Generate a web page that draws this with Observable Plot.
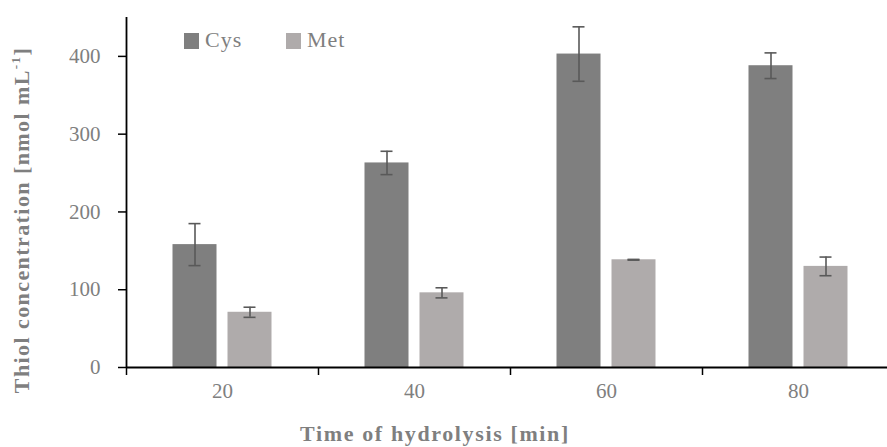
<!DOCTYPE html>
<html>
<head>
<meta charset="utf-8">
<script src="https://cdn.jsdelivr.net/npm/d3@7"></script>
<script src="https://cdn.jsdelivr.net/npm/@observablehq/plot@0.6"></script>
<style>
  html, body { margin: 0; padding: 0; background: #fff; }
  #wrap { position: relative; width: 887px; height: 447px; overflow: hidden; font-family: "Liberation Serif", serif; }
  #wrap svg { display: block; }
  #wrap svg text { fill: #7f7f7f; font-family: "Liberation Serif", serif !important; }
  .title { position: absolute; white-space: nowrap; font-family: "Liberation Serif", serif; font-weight: bold; font-size: 22px; color: #7f7f7f; line-height: 1; }
  .ytitle sup { font-size: 13px; vertical-align: 9px; line-height: 0; }
  .legend-item { position: absolute; top: 28px; display: flex; align-items: center; font-family: "Liberation Serif", serif; font-size: 22px; color: #7f7f7f; line-height: 24px; letter-spacing: 1px; }
  .legend-item i { display: inline-block; width: 15px; height: 16px; margin-right: 6px; margin-top: 1px; }
</style>
</head>
<body>
<div id="wrap"></div>
<script>
const times = [20, 40, 60, 80];
const seriesNames = ["Cys", "Met"];
const cysValues = [158, 263, 403, 388];
const cysErrors = [27, 15, 35, 16.5];
const metValues = [71, 96, 138.5, 130];
const metErrors = [6.5, 6.5, 0.5, 12];
const seriesColors = ["#7f7f7f", "#afabab"];
const yTicks = [0, 100, 200, 300, 400];

const cysRows = times.map((t, i) => ({time: t, series: "Cys", value: cysValues[i], err: cysErrors[i]}));
const metRows = times.map((t, i) => ({time: t, series: "Met", value: metValues[i], err: metErrors[i]}));

const errStroke = "#595959";
function seriesMarks(rows, color, dx) {
  return [
    Plot.barY(rows, {x: "time", y: "value", fill: color, dx}),
    Plot.ruleX(rows, {x: "time", y1: d => d.value - d.err, y2: d => d.value + d.err, dx, stroke: errStroke, strokeWidth: 1.6}),
    Plot.tickY(rows, {x: "time", y: d => d.value + d.err, dx, insetLeft: 16, insetRight: 16, stroke: errStroke, strokeWidth: 1.6}),
    Plot.tickY(rows, {x: "time", y: d => d.value - d.err, dx, insetLeft: 16, insetRight: 16, stroke: errStroke, strokeWidth: 1.6})
  ];
}

const chart = Plot.plot({
  width: 887,
  height: 447,
  marginLeft: 126,
  marginRight: 0,
  marginTop: 17,
  marginBottom: 80,
  style: {fontFamily: "'Liberation Serif', serif", fontSize: "21px", color: "#000", background: "#fff"},
  x: {type: "band", domain: times, range: [125.5, 893.5], paddingInner: 0.773, paddingOuter: 0.3865, align: 0.5},
  y: {domain: [0, 450]},
  marks: [
    ...seriesMarks(cysRows, seriesColors[0], -27.5),
    ...seriesMarks(metRows, seriesColors[1], 27.5),
    Plot.axisY({ticks: yTicks, tickSize: 8, tickPadding: 18, label: null, fontSize: 21, strokeWidth: 1.5}),
    Plot.axisX({ticks: times, tickSize: 8, text: null, dx: -96, label: null, strokeWidth: 1.5}),
    Plot.axisX({ticks: times, tickSize: 0, tickPadding: 16, label: null, fontSize: 21}),
    Plot.ruleY([0], {stroke: "#000", strokeWidth: 1.8}),
    Plot.ruleX([times[0]], {dx: -96, y1: 0, y2: 450, stroke: "#000", strokeWidth: 1.8})
  ]
});

const wrap = document.getElementById("wrap");
wrap.appendChild(chart);

// fit a title's width by letter-spacing, then place it centred on (cx, cy)
function addTitle(html, cx, cy, targetWidth, rotate) {
  const el = document.createElement("div");
  el.className = "title" + (rotate ? " ytitle" : "");
  el.innerHTML = html;
  wrap.appendChild(el);
  const w = el.offsetWidth;
  const n = el.textContent.length;
  el.style.letterSpacing = ((targetWidth - w) / n) + "px";
  el.style.left = cx + "px";
  el.style.top = cy + "px";
  el.style.transform = "translate(-50%, -50%)" + (rotate ? " rotate(-90deg)" : "");
}
addTitle("Thiol concentration [nmol mL<sup>-1</sup>]", 22, 220, 346, true);
addTitle("Time of hydrolysis [min]", 435, 434, 270, false);

const legendLefts = [184, 286];
seriesNames.forEach((name, i) => {
  const it = document.createElement("span");
  it.className = "legend-item";
  it.style.left = legendLefts[i] + "px";
  const sw = document.createElement("i");
  sw.style.background = seriesColors[i];
  it.appendChild(sw);
  it.appendChild(document.createTextNode(name));
  wrap.appendChild(it);
});
</script>
</body>
</html>
